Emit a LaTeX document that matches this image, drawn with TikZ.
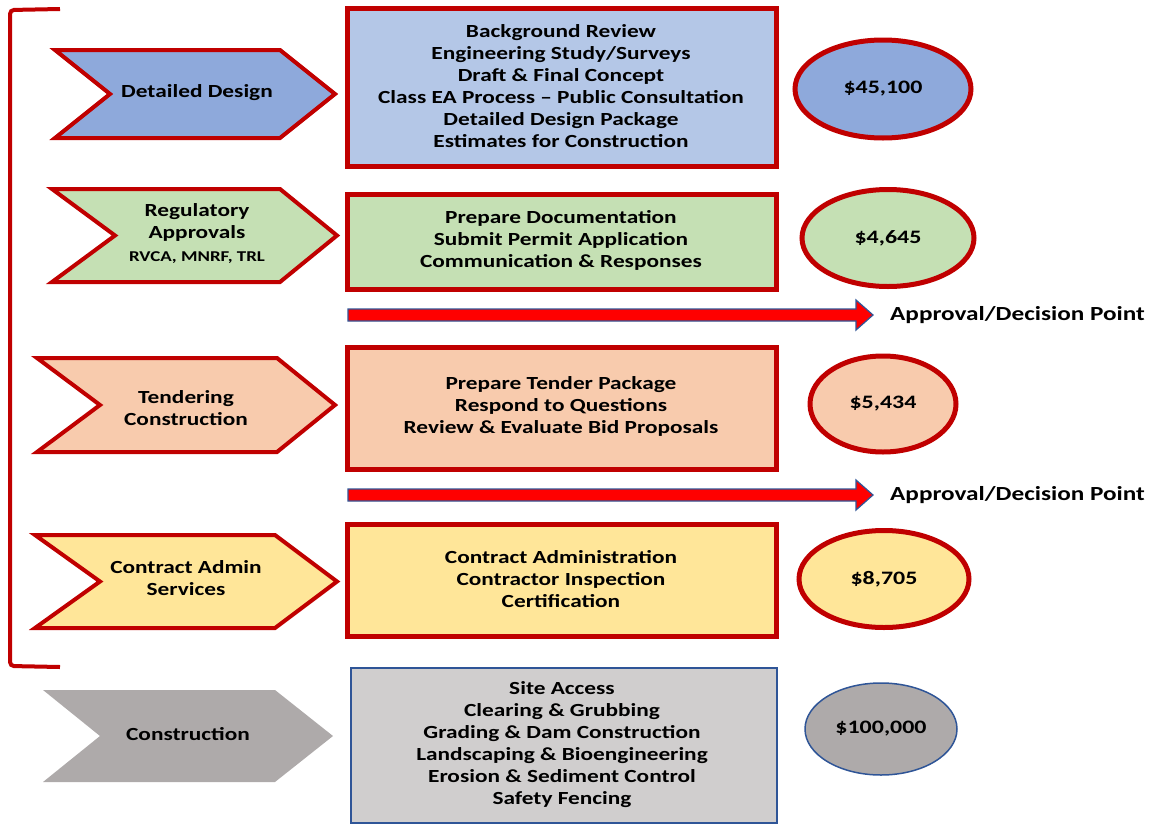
\documentclass[tikz,border=0pt]{standalone}
\usepackage{fontspec}
\setmainfont{Carlito}[FakeStretch=1.26]
\usetikzlibrary{shapes.geometric}
\definecolor{dred}{HTML}{C00000}
\definecolor{dblue}{HTML}{2F5597}
\definecolor{blueA}{HTML}{8EA9DB}
\definecolor{blueB}{HTML}{B4C7E7}
\definecolor{greenA}{HTML}{C5E0B4}
\definecolor{orangeA}{HTML}{F8CBAD}
\definecolor{yellowA}{HTML}{FFE699}
\definecolor{greyA}{HTML}{AEAAAA}
\definecolor{greyB}{HTML}{D0CECE}
\tikzset{
  chev/.style={draw=dred, line width=4pt, line join=miter},
  taskbox/.style={draw=dred, line width=5pt},
  cost/.style={ellipse, draw=dred, line width=5pt, inner sep=0pt, font=\bfseries\fontsize{19}{22}\selectfont},
  lbl/.style={font=\bfseries\fontsize{18.5}{22}\selectfont, align=center, inner sep=0pt},
  small/.style={font=\bfseries\fontsize{15}{17}\selectfont, inner sep=0pt},
  declbl/.style={font=\bfseries\fontsize{20}{22}\selectfont, inner sep=0pt, anchor=west},
  decarrow/.style={fill=red, draw=dblue, line width=1.2pt, line join=miter},
}
\newcommand{\chevron}[7]{% style, xl, xnotch, xr, xtip, ytop, ybot
  \path[#1] (#2,#6) -- (#4,#6) -- (#5,{(#6+#7)/2}) -- (#4,#7) -- (#2,#7) -- (#3,{(#6+#7)/2}) -- cycle;}
\newcommand{\decarrowat}[1]{% y centre
  \path[decarrow] (348,{#1-6}) -- (856,{#1-6}) -- (856,{#1-15}) -- (873,#1) -- (856,{#1+15}) -- (856,{#1+6}) -- (348,{#1+6}) -- cycle;}
\begin{document}
\begin{tikzpicture}[x=1pt,y=-1pt]
\useasboundingbox (0,0) rectangle (1154,825);
% bracket
\draw[dred, line width=4pt, rounded corners=4pt] (60,9) -- (10,10) -- (10,666) -- (60,667);
% ---- row 1
\chevron{chev, fill=blueA}{55}{110}{280}{335}{50}{138}
\node[lbl] (c1) at (197,93) {Detailed Design};
\draw[taskbox, fill=blueB] (347,8) rectangle (776,166);
\node[lbl] (t1) at (561,86) {Background Review\\Engineering Study/Surveys\\Draft \& Final Concept\\Class EA Process – Public Consultation\\Detailed Design Package\\Estimates for Construction};
\node[cost, fill=blueA, minimum width=176pt, minimum height=98pt] (e1) at (883,89) {\$45,100};
% ---- row 2
\chevron{chev, fill=greenA}{52}{115}{280}{337}{189}{282}
\node[lbl] (c2) at (197,222) {Regulatory\\Approvals};
\node[small] (c2b) at (197,258) {RVCA, MNRF, TRL};
\draw[taskbox, fill=greenA] (347,194) rectangle (776,289);
\node[lbl] (t2) at (561,240) {Prepare Documentation\\Submit Permit Application\\Communication \& Responses};
\node[cost, fill=greenA, minimum width=172pt, minimum height=97pt] (e2) at (888,238) {\$4,645};
% ---- arrow 1
\decarrowat{315}
\node[declbl] (d1) at (890,315) {Approval/Decision Point};
% ---- row 3
\chevron{chev, fill=orangeA}{37}{100}{277}{335}{358}{452}
\node[lbl] (c3) at (186,408) {Tendering\\Construction};
\draw[taskbox, fill=orangeA] (347,347) rectangle (776,469);
\node[lbl] (t3) at (561,406) {Prepare Tender Package\\Respond to Questions\\Review \& Evaluate Bid Proposals};
\node[cost, fill=orangeA, minimum width=146pt, minimum height=96pt] (e3) at (883,404) {\$5,434};
% ---- arrow 2
\decarrowat{495}
\node[declbl] (d2) at (890,495) {Approval/Decision Point};
% ---- row 4
\chevron{chev, fill=yellowA}{35}{100}{275}{337}{535}{628}
\node[lbl] (c4) at (186,578) {Contract Admin\\Services};
\draw[taskbox, fill=yellowA] (347,524) rectangle (776,636);
\node[lbl] (t4) at (561,579) {Contract Administration\\Contractor Inspection\\Certification};
\node[cost, fill=yellowA, minimum width=170pt, minimum height=97pt] (e4) at (884,579) {\$8,705};
% ---- row 5
\chevron{fill=greyA}{43}{100}{275}{333}{690}{782}
\node[lbl] (c5) at (188,734) {Construction};
\draw[draw=dblue, line width=1.5pt, fill=greyB] (351,668) rectangle (777,823);
\node[lbl] (t5) at (562,745) {Site Access\\Clearing \& Grubbing\\Grading \& Dam Construction\\Landscaping \& Bioengineering\\Erosion \& Sediment Control\\Safety Fencing};
\node[ellipse, draw=dblue, line width=1.5pt, fill=greyA, inner sep=0pt, minimum width=152pt, minimum height=92pt, font=\bfseries\fontsize{19}{22}\selectfont] (e5) at (881,729) {\$100,000};
\end{tikzpicture}
\end{document}
